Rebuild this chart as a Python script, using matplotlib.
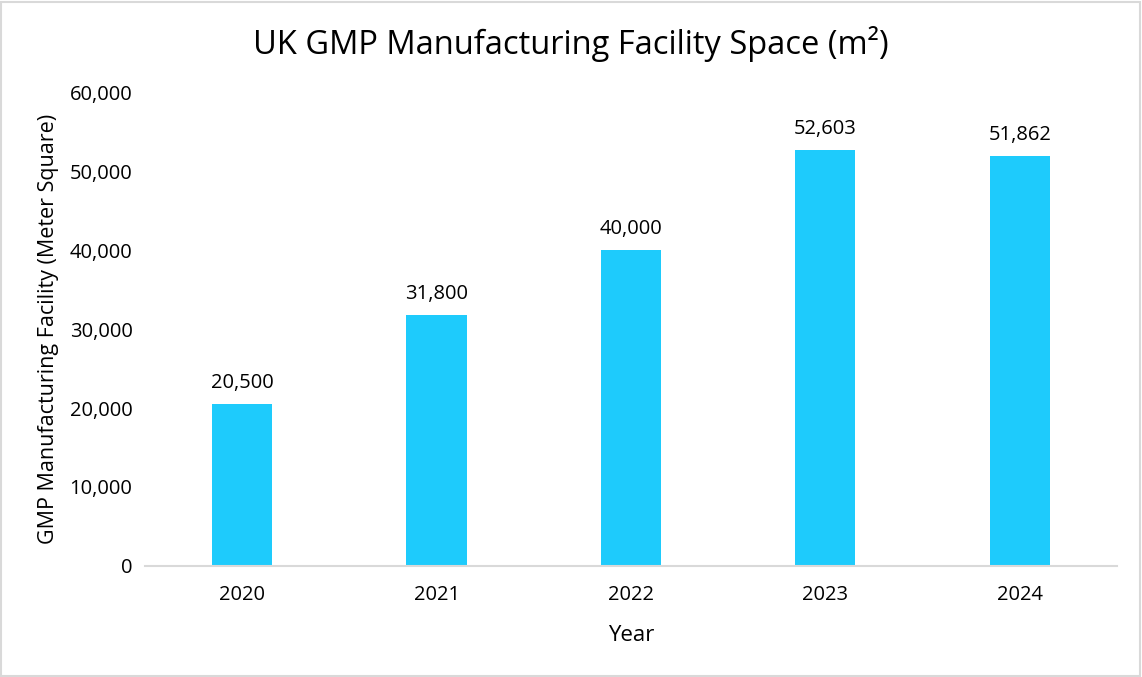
import matplotlib.pyplot as plt
from matplotlib.ticker import FuncFormatter
from matplotlib.patches import Rectangle

years = ["2020", "2021", "2022", "2023", "2024"]
space_m2 = [20500, 31800, 40000, 52603, 51862]

plt.rcParams['font.family'] = ['Open Sans', 'DejaVu Sans']

fig = plt.figure(figsize=(11.42, 6.77), dpi=100)
ax = fig.add_axes([0.127, 0.164, 0.851, 0.700])

x = range(len(years))
bars = ax.bar(x, space_m2, width=0.31, color="#1ECBFC")

## value labels above each bar
for b, v in zip(bars, space_m2):
    ax.annotate(f"{v:,}", (b.get_x() + b.get_width() / 2, v),
                xytext=(0, 8), textcoords="offset points",
                ha="center", va="bottom", fontsize=14.5, color="black")

ax.set_xlim(-0.5, len(years) - 0.5)
ax.set_ylim(0, 60000)
ax.set_yticks(range(0, 60001, 10000))
ax.yaxis.set_major_formatter(FuncFormatter(lambda v, p: f"{int(v):,}"))
ax.set_xticks(list(x))
ax.set_xticklabels(years)
ax.tick_params(axis="both", length=0, labelsize=14.5, colors="black")
ax.tick_params(axis="x", pad=14)
ax.tick_params(axis="y", pad=9)

for s in ["top", "right", "left"]:
    ax.spines[s].set_visible(False)
ax.spines["bottom"].set_color("#d9d9d9")
ax.spines["bottom"].set_linewidth(1.5)

ax.set_xlabel("Year", fontsize=16, labelpad=14)
ax.set_ylabel("GMP Manufacturing Facility (Meter Square)", fontsize=15.5, labelpad=8)
fig.suptitle("UK GMP Manufacturing Facility Space (m²)", fontsize=23.5, y=0.962)

## light border around the whole chart
fig.patches.append(Rectangle((0.001, 0.002), 0.997, 0.995, transform=fig.transFigure,
                             fill=False, edgecolor="#d9d9d9", linewidth=1.5))

fig.savefig("out.png", dpi=100)
